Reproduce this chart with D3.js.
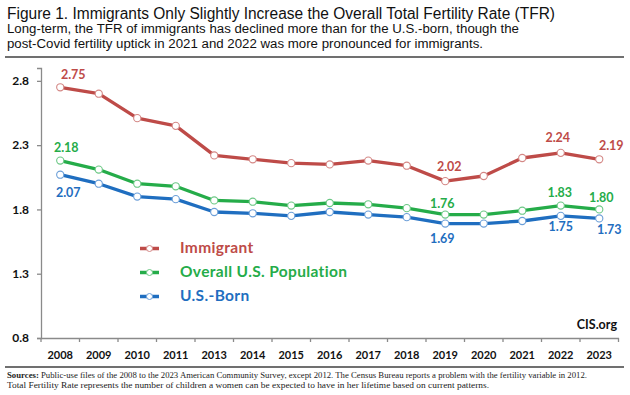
<!DOCTYPE html>
<html><head><meta charset="utf-8">
<script src="https://cdn.jsdelivr.net/npm/d3@7"></script>
<style>
html,body{margin:0;padding:0;background:#fff;}
svg{display:block;}
</style></head>
<body>
<script>
// ---- data ----
const years = ["2008","2009","2010","2011","2013","2014","2015","2016","2017","2018","2019","2020","2021","2022","2023"];
const immigrant = [2.75,2.70,2.51,2.45,2.22,2.19,2.16,2.15,2.18,2.14,2.02,2.06,2.20,2.24,2.19];
const overall   = [2.18,2.11,2.00,1.98,1.87,1.86,1.83,1.85,1.84,1.81,1.76,1.76,1.79,1.83,1.80];
const usBorn    = [2.07,2.00,1.90,1.88,1.78,1.77,1.75,1.78,1.76,1.74,1.69,1.69,1.71,1.75,1.73];
const seriesNames = ["Immigrant","Overall U.S. Population","U.S.-Born"];
const labelledYears = ["2008","2019","2022","2023"];
const yTicks = [0.8,1.3,1.8,2.3,2.8];
const titleText = "Figure 1. Immigrants Only Slightly Increase the Overall Total Fertility Rate (TFR)";
const subtitleLines = ["Long-term, the TFR of immigrants has declined more than for the U.S.-born, though the",
                       "post-Covid fertility uptick in 2021 and 2022 was more pronounced for immigrants."];
const sourceBold = "Sources:";
const sourceLines = [" Public-use files of the 2008 to the 2023 American Community Survey, except 2012. The Census Bureau reports a problem with the fertility variable in 2012.",
                     "Total Fertility Rate represents the number of children a women can be expected to have in her lifetime based on current patterns."];
const creditText = "CIS.org";

// ---- styles / layout ----
const W = 630, H = 395;
const colors = ["#be4b48", "#25ac49", "#1f6ec0"];
const markerStroke = ["#d48886", "#6cc885", "#6c9fd8"];
const series = [immigrant, overall, usBorn];
// label offsets per series, per labelled year: [dx, dy] relative to point
const labelOffsets = [
  [[13,-8],[4,-10],[-3,-11],[12,-9]],
  [[6,-9],[-3,-7],[-1,-9],[2,-7]],
  [[8,22],[-3,19],[0,15],[10,16]]
];
const chartFont = "Lato, 'Open Sans', sans-serif";

const svg = d3.select("body").append("svg").attr("width", W).attr("height", H);

// title block
svg.append("text").attr("x", 7).attr("y", 19).attr("font-family","'Liberation Sans', Arial, sans-serif")
  .attr("font-size", 16).attr("fill","#111").attr("textLength", 548).attr("lengthAdjust","spacingAndGlyphs").text(titleText);
const subEnds = [512, 476];
subtitleLines.forEach((t,i)=>{
  svg.append("text").attr("x", 7).attr("y", 33 + i*15).attr("font-family","'Liberation Sans', Arial, sans-serif")
    .attr("font-size", 12.5).attr("fill","#111").attr("textLength", subEnds[i]).attr("lengthAdjust","spacingAndGlyphs").text(t);
});
svg.append("line").attr("x1",5).attr("x2",624).attr("y1",57).attr("y2",57).attr("stroke","#707070").attr("stroke-width",2);

// scales
const x = d3.scaleBand().domain(years).range([41, 618.5]).paddingInner(0).paddingOuter(0);
const y = d3.scaleLinear().domain([0.8, 2.9]).range([338, 68]);
const cx = d => x(d) + x.bandwidth()/2;

// axes
const axisColor = "#8a8a8a";
const gy = svg.append("g").attr("transform","translate(41,0)")
  .call(d3.axisLeft(y).tickValues(yTicks).tickFormat(d3.format(".1f")).tickSize(4).tickPadding(8));
gy.select(".domain").attr("stroke", axisColor).attr("stroke-width",1.3);
gy.selectAll(".tick line").attr("stroke", axisColor).attr("stroke-width",1.3);
gy.selectAll(".tick text").attr("font-family", chartFont).attr("font-weight","bold").attr("font-size",12).attr("fill","#111");

const gx = svg.append("g").attr("transform","translate(0,338)")
  .call(d3.axisBottom(x).tickSize(0).tickPadding(13));
gx.select(".domain").attr("stroke", axisColor).attr("stroke-width",1.3);
gx.selectAll(".tick text").attr("font-family", chartFont).attr("font-weight","bold").attr("font-size",11).attr("fill","#111");
// boundary ticks
const bounds = years.map(d => x(d)).concat([x(years[years.length-1]) + x.bandwidth()]);
svg.append("g").selectAll("line").data(bounds).join("line")
  .attr("x1", d=>d).attr("x2", d=>d).attr("y1", 338).attr("y2", 342)
  .attr("stroke", axisColor).attr("stroke-width",1.3);

// lines
const line = d3.line().x((d,i)=>cx(years[i])).y(d=>y(d));
series.forEach((s, k) => {
  svg.append("path").datum(s).attr("d", line).attr("fill","none")
    .attr("stroke", colors[k]).attr("stroke-width", 3.3).attr("stroke-linejoin","round");
});
series.forEach((s, k) => {
  svg.append("g").selectAll("circle").data(s).join("circle")
    .attr("cx", (d,i)=>cx(years[i])).attr("cy", d=>y(d)).attr("r", 3.6)
    .attr("fill","#fff").attr("stroke", markerStroke[k]).attr("stroke-width", 1.1);
});

// data labels
series.forEach((s, k) => {
  labelledYears.forEach((yr, j) => {
    const i = years.indexOf(yr);
    const off = labelOffsets[k][j];
    svg.append("text").attr("x", cx(yr) + off[0]).attr("y", y(s[i]) + off[1])
      .attr("text-anchor","middle").attr("font-family", chartFont).attr("font-weight","bold")
      .attr("font-size", 12.5).attr("fill", colors[k]).text(d3.format(".2f")(s[i]));
  });
});

// legend
seriesNames.forEach((n, k) => {
  const by = 253 + k*24;
  svg.append("line").attr("x1",140).attr("x2",159).attr("y1",by-4.5).attr("y2",by-4.5)
    .attr("stroke", colors[k]).attr("stroke-width",3.5);
  svg.append("circle").attr("cx",149.5).attr("cy",by-4.5).attr("r",3)
    .attr("fill","#fff").attr("stroke", markerStroke[k]).attr("stroke-width",1);
  svg.append("text").attr("x",180).attr("y",by).attr("font-family", chartFont).attr("font-weight","bold")
    .attr("font-size",15.5).attr("letter-spacing",0.35).attr("fill", colors[k]).text(n);
});

// credit
svg.append("text").attr("x",617).attr("y",329).attr("text-anchor","end").attr("font-family", chartFont)
  .attr("font-weight","bold").attr("font-size",12.5).attr("fill","#111").text(creditText);

// footer
svg.append("line").attr("x1",5).attr("x2",624).attr("y1",367).attr("y2",367).attr("stroke","#707070").attr("stroke-width",2);
const f1 = svg.append("text").attr("x",7).attr("y",378).attr("font-family","'Liberation Serif', 'DejaVu Serif', serif")
  .attr("font-size",8.6).attr("fill","#222").attr("textLength",580).attr("lengthAdjust","spacingAndGlyphs");
f1.append("tspan").attr("font-weight","bold").text(sourceBold);
f1.append("tspan").text(sourceLines[0]);
svg.append("text").attr("x",7).attr("y",388).attr("font-family","'Liberation Serif', 'DejaVu Serif', serif")
  .attr("font-size",8.6).attr("fill","#222").attr("textLength",482).attr("lengthAdjust","spacingAndGlyphs").text(sourceLines[1]);
</script>
</body></html>
